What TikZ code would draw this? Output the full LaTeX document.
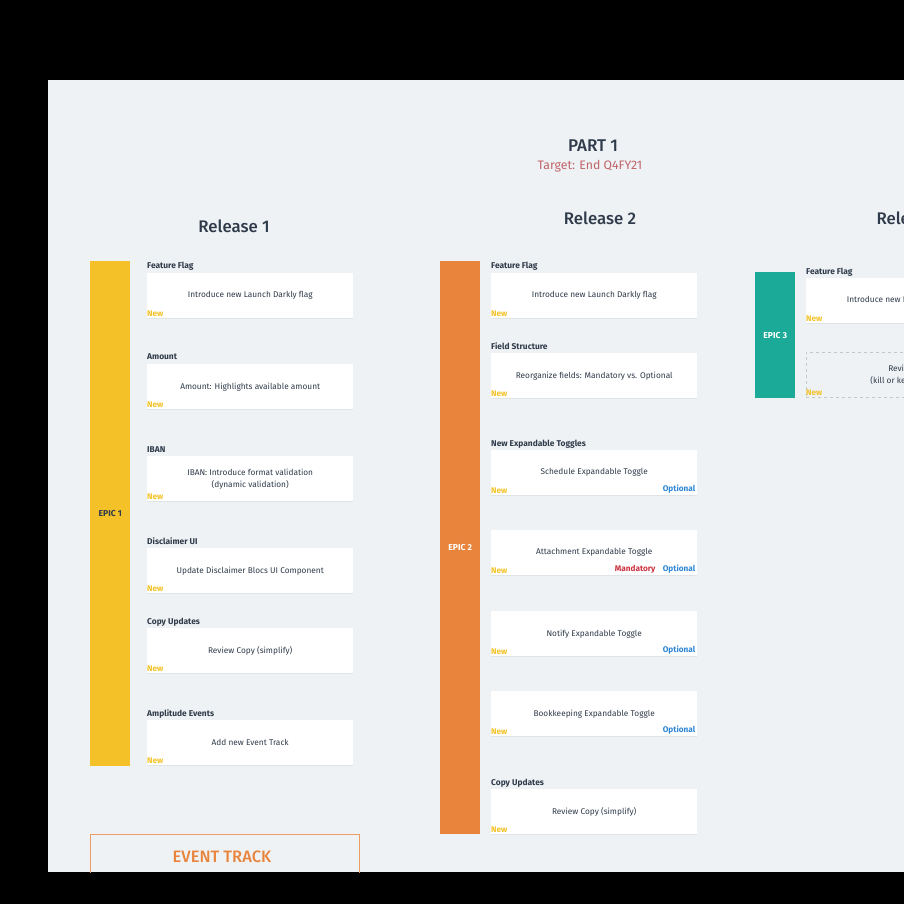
\documentclass[tikz,border=0pt]{standalone}
\usepackage{fontspec}
\setmainfont{Fira Sans}
\newfontfamily\medfont{Fira Sans Medium}
\usetikzlibrary{positioning}
\definecolor{bgc}{HTML}{EFF2F5}
\definecolor{ink}{HTML}{2F3B4A}
\definecolor{yel}{HTML}{F4C228}
\definecolor{ora}{HTML}{E8843C}
\definecolor{teal}{HTML}{1BAA97}
\definecolor{tgt}{HTML}{C06468}
\definecolor{blu}{HTML}{2F87D6}
\definecolor{mand}{HTML}{CC3340}
\definecolor{shd}{HTML}{E0E4E9}
\tikzset{
  card/.style={fill=white, draw=none, minimum width=206pt, minimum height=45pt, anchor=north west, inner sep=0pt},
  dcard/.style={card, draw=gray!45, dashed, line width=0.6pt},
  body/.style={font=\fontsize{8.3}{12}\selectfont, text=ink, align=center},
  ttl/.style={font=\fontsize{8.4}{10}\selectfont\bfseries, text=ink, anchor=west, inner sep=0pt},
  newlbl/.style={font=\fontsize{8.2}{9}\selectfont\bfseries, text=yel, anchor=south west, inner xsep=0pt, inner ysep=2pt},
  optlbl/.style={font=\fontsize{8.2}{9}\selectfont\bfseries, text=blu, anchor=south east, inner xsep=2pt, inner ysep=2pt},
  mandlbl/.style={font=\fontsize{8.2}{9}\selectfont\bfseries, text=mand, anchor=south east, inner xsep=0pt, inner ysep=2pt},
  epicbar/.style={draw=none, minimum width=40pt, anchor=north west, inner sep=0pt},
  epiclbl/.style={font=\fontsize{8.6}{10}\selectfont\bfseries},
  reltitle/.style={font=\fontsize{16.8}{20}\selectfont\medfont, text=ink},
}
\newcommand{\mkcard}[5]{% name, x, ytop, body, style
  \fill[shd] (#2+0.3,#3+1) rectangle (#2+206.3,#3+46);
  \node[#5] (#1) at (#2,#3) {};
  \node[body] (#1t) at (#1.center) {#4};
  \node[newlbl] (#1n) at (#1.south west) {New};
}
\begin{document}
\begin{tikzpicture}[x=1pt,y=-1pt]
\fill[black] (0,0) rectangle (904,904);
\useasboundingbox (0,0) rectangle (904,904);
\begin{scope}
\clip (48,80) rectangle (904,872);
\fill[bgc] (48,80) rectangle (904,872);

% headings
\node[font=\fontsize{17}{20}\selectfont\medfont, text=ink] (part) at (593,146) {PART 1};
\node[font=\fontsize{12.3}{14}\selectfont, text=tgt] (target) at (590,166) {Target: End Q4FY21};
\node[reltitle] (r1) at (234,226) {Release 1};
\node[reltitle] (r2) at (600,218) {Release 2};
\node[reltitle, anchor=west] (r3) at (873,218) {Release 3};

% epic bars
\node[epicbar, fill=yel, minimum height=505pt] (e1) at (90,261) {};
\node[epiclbl, text=ink] at (e1.center) {EPIC 1};
\node[epicbar, fill=ora, minimum height=573pt] (e2) at (440,261) {};
\node[epiclbl, text=white] at (e2.center) {EPIC 2};
\node[epicbar, fill=teal, minimum height=126pt] (e3) at (755,272) {};
\node[epiclbl, text=white] at (e3.center) {EPIC 3};

% column 1
\node[ttl] (t1a) at (147,266) {Feature Flag};
\mkcard{c1a}{147}{273}{Introduce new Launch Darkly flag}{card}
\node[ttl] (t1b) at (147,357) {Amount};
\mkcard{c1b}{147}{364}{Amount: Highlights available amount}{card}
\node[ttl] (t1c) at (147,450) {IBAN};
\mkcard{c1c}{147}{456}{IBAN: Introduce format validation\\(dynamic validation)}{card}
\node[ttl] (t1d) at (147,541) {Disclaimer UI};
\mkcard{c1d}{147}{548}{Update Disclaimer Blocs UI Component}{card}
\node[ttl] (t1e) at (147,622) {Copy Updates};
\mkcard{c1e}{147}{628}{Review Copy (simplify)}{card}
\node[ttl] (t1f) at (147,714) {Amplitude Events};
\mkcard{c1f}{147}{720}{Add new Event Track}{card}

% column 2
\node[ttl] (t2a) at (491,266) {Feature Flag};
\mkcard{c2a}{491}{273}{Introduce new Launch Darkly flag}{card}
\node[ttl] (t2b) at (491,346) {Field Structure};
\mkcard{c2b}{491}{353}{Reorganize fields: Mandatory vs. Optional}{card}
\node[ttl] (t2c) at (491,444) {New Expandable Toggles};
\mkcard{c2c}{491}{450}{Schedule Expandable Toggle}{card}
\node[optlbl] at (c2c.south east) {Optional};
\mkcard{c2d}{491}{530}{Attachment Expandable Toggle}{card}
\node[optlbl] (c2do) at (c2d.south east) {Optional};
\node[mandlbl] at ([xshift=-5pt]c2do.south west) {Mandatory};
\mkcard{c2e}{491}{611}{Notify Expandable Toggle}{card}
\node[optlbl] at (c2e.south east) {Optional};
\mkcard{c2f}{491}{691}{Bookkeeping Expandable Toggle}{card}
\node[optlbl] at (c2f.south east) {Optional};
\node[ttl] (t2g) at (491,783) {Copy Updates};
\mkcard{c2g}{491}{789}{Review Copy (simplify)}{card}

% column 3
\node[ttl] (t3a) at (806,272) {Feature Flag};
\mkcard{c3a}{806}{278}{Introduce new Launch Darkly flag}{card}
\node[dcard, fill=bgc] (c3b) at (806,352) {};
\node[body] (c3bt) at (c3b.center) {Review flag\\(kill or keep the flag)};
\node[newlbl] at (c3b.south west) {New};

% event track
\node[draw=ora!80, line width=0.8pt, fill=none, minimum width=269pt, minimum height=60pt, anchor=north west, inner sep=0pt] (ev) at (90,834) {};
\node[font=\fontsize{16.5}{20}\selectfont\medfont, text=ora] (evt) at (222,857) {EVENT TRACK};
\end{scope}
\end{tikzpicture}
\end{document}
